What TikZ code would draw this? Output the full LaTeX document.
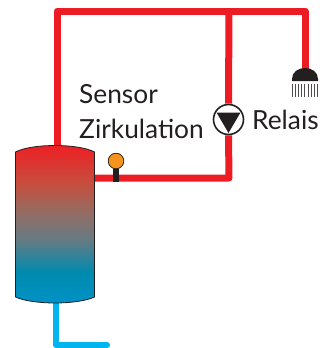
\documentclass[tikz,border=0pt]{standalone}
\usepackage{fontspec}
\setmainfont{Lato}
\definecolor{pipered}{HTML}{ED1C24}
\definecolor{pipeblue}{HTML}{00B4F0}
\definecolor{ink}{HTML}{231F20}
\definecolor{sens}{HTML}{F7941D}
\definecolor{tanka}{HTML}{ED2024}
\definecolor{tankb}{HTML}{C4503F}
\definecolor{tankc}{HTML}{8F6F66}
\definecolor{tankd}{HTML}{657B84}
\definecolor{tanke}{HTML}{008AAE}
\definecolor{tankf}{HTML}{0092C6}
\pgfdeclareverticalshading{tankshade}{100bp}{
  color(0bp)=(tankf); color(25bp)=(tankf); color(34.8bp)=(tanke); color(45bp)=(tankd);
  color(52.9bp)=(tankc); color(62.5bp)=(tankb); color(75bp)=(tanka); color(100bp)=(tanka)}
\tikzset{
  redpipe/.style={draw=pipered,line width=7pt,line join=round},
  bluepipe/.style={draw=pipeblue,line width=6pt,line join=round,line cap=round},
  lbl/.style={font=\fontsize{26.3}{30}\selectfont,text=ink,inner sep=0pt,anchor=base west},
  pumpc/.style={circle,draw=ink,fill=white,line width=1.6pt,minimum size=30pt,inner sep=0pt},
  sensorc/.style={circle,draw=ink,fill=sens,line width=0.6pt,minimum size=15.5pt,inner sep=0pt},
}
\begin{document}
\begin{tikzpicture}[x=1pt,y=-1pt]
\useasboundingbox (0,0) rectangle (320,348);
\coordinate (tl) at (57,11);
\coordinate (tm) at (229,11);
\coordinate (tr) at (305,11);
\coordinate (sh) at (305,70);
\coordinate (tanktop) at (57,148);
\coordinate (tankr) at (94,178);
\coordinate (lc) at (229,178);
\coordinate (tankbot) at (56,301);
\coordinate (cc) at (56,345);
\coordinate (ce) at (107,345);
\node[pumpc] (pump) at (228.5,119.5) {};
\node[sensorc] (sensor) at (116,161) {};
\draw[redpipe] (tanktop) -- (tl) -- (tr) -- (sh);
\draw[redpipe] (tm) -- (pump.north);
\draw[redpipe] (pump.south) -- (lc) -- (tankr);
\draw[bluepipe] (tankbot) -- (cc) -- (ce);
% tank
\path[shading=tankshade]
  (15.5,152) .. controls (24,147.5) and (40,145.5) .. (55,145.5) .. controls (70,145.5) and (86,147.5) .. (94.5,152)
  -- (94.5,297) .. controls (86,301) and (70,303) .. (55,303) .. controls (40,303) and (24,301) .. (15.5,297) -- cycle;
\draw[draw=ink,line width=0.8pt]
  (15.5,297) -- (15.5,152) .. controls (24,147.5) and (40,145.5) .. (55,145.5) .. controls (70,145.5) and (86,147.5) .. (94.5,152) -- (94.5,297)
  .. controls (86,301) and (70,303) .. (55,303) .. controls (40,303) and (24,301) .. (15.5,297);
% sensor
\coordinate (sb) at (116,182);
\draw[ink,line width=6pt] (sensor.south) -- (sb);
\node[sensorc] at (sensor) {};
% pump triangle
\fill[ink] (216.5,112.5) -- (240.5,112.5) -- (228.5,133) -- cycle;
% shower
\fill[ink] (292,81) -- (292,79) .. controls (292,72) and (298,68) .. (305,68) .. controls (312,68) and (318,72) .. (318,79) -- (318,81) -- cycle;
\foreach \x in {292,295.2,...,320.5} \draw[ink!80,line width=0.7pt] (\x,83.5) -- (\x,97);
% labels
\node[lbl] (t1) at (79,103) {Sensor};
\node[lbl] (t2) at (79,138) {Zirkulation};
\node[lbl] (t3) at (252,129) {Relais};
\end{tikzpicture}
\end{document}
